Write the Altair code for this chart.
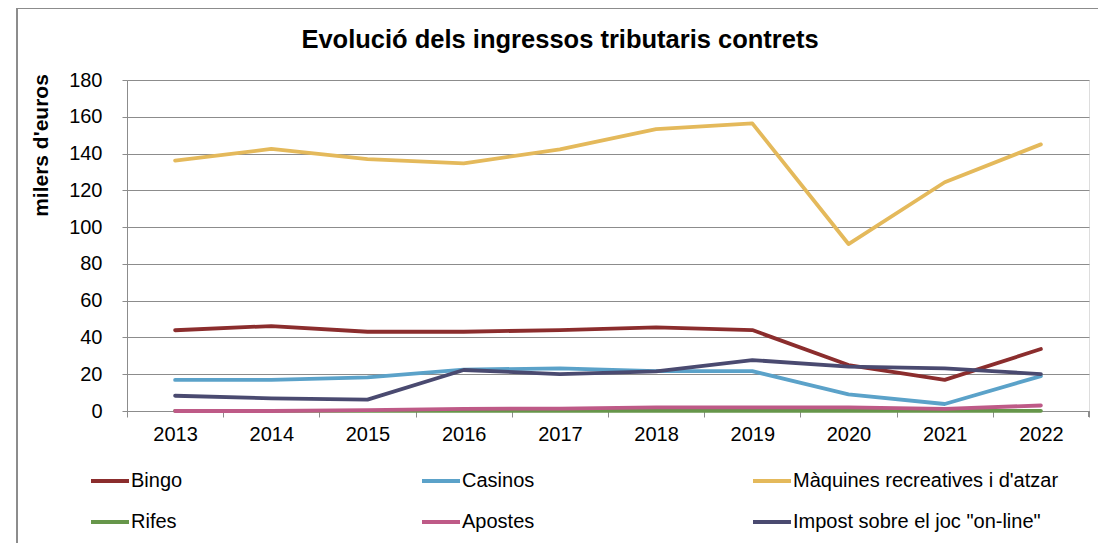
import altair as alt
import pandas as pd

years = ["2013", "2014", "2015", "2016", "2017", "2018", "2019", "2020", "2021", "2022"]
series = ["Bingo", "Casinos", "Màquines recreatives i d'atzar", "Rifes", "Apostes",
          "Impost sobre el joc \"on-line\""]
bingo = [43.9, 46.2, 43.1, 43.1, 44.0, 45.5, 44.0, 25.0, 16.9, 33.7]
casinos = [16.9, 16.9, 18.3, 22.5, 23.2, 21.7, 21.7, 9.0, 3.8, 19.0]
maquines = [136.2, 142.5, 137.0, 134.7, 142.3, 153.3, 156.4, 90.8, 124.4, 145.0]
rifes = [0.1, 0.1, 0.1, 0.1, 0.1, 0.1, 0.1, 0.1, 0.1, 0.1]
apostes = [0.0, 0.0, 0.5, 1.2, 1.3, 2.0, 2.0, 2.0, 1.2, 3.0]
impost = [8.3, 6.9, 6.2, 22.3, 20.1, 21.6, 27.7, 24.1, 23.2, 20.1]
colors = ["#8B2D2D", "#5BA2C9", "#E4B95B", "#66964A", "#BE5A87", "#4A4A70"]
title_text = "Evolució dels ingressos tributaris  contrets"

values = [bingo, casinos, maquines, rifes, apostes, impost]
rows = []
for si, (name, vals) in enumerate(zip(series, values)):
    for y, v in zip(years, vals):
        rows.append({"year": y, "series": name, "value": v, "order": si})
df = pd.DataFrame(rows)

W, H = 962, 331
FONT = "Liberation Sans"

lines = alt.Chart(df).mark_line(strokeWidth=3.8, strokeCap="round", strokeJoin="round").encode(
    x=alt.X("year:O", bandPosition=0.5,
            scale=alt.Scale(type="band", paddingInner=0, paddingOuter=0),
            axis=alt.Axis(title=None, tickBand="extent", labelAngle=0, labelFontSize=20,
                          labelFont=FONT, labelColor="#000", labelPadding=7, tickSize=6,
                          tickColor="#8c8c8c", domainColor="#8c8c8c", grid=False)),
    y=alt.Y("value:Q",
            scale=alt.Scale(domain=[0, 180], nice=False),
            axis=alt.Axis(values=list(range(0, 181, 20)), title="milers d'euros",
                          titleFont=FONT, titleFontSize=21, titleFontWeight="bold",
                          titleColor="#000", titleAngle=-90, titleX=-86, titleY=65,
                          titleAlign="center", titleBaseline="middle",
                          labelFontSize=20, labelFont=FONT, labelColor="#000",
                          labelPadding=20, tickSize=5, tickColor="#8c8c8c",
                          domainColor="#8c8c8c", gridColor="#8c8c8c", gridWidth=1.2)),
    color=alt.Color("series:N", sort=series,
                    scale=alt.Scale(domain=series, range=colors),
                    legend=alt.Legend(title=None, orient="none", legendX=-43, legendY=380,
                                      direction="horizontal", columns=3, gridAlign="all",
                                      columnPadding=17, rowPadding=10, symbolType="stroke",
                                      symbolSize=1444, symbolStrokeWidth=4, symbolOffset=5,
                                      labelFontSize=20, labelFont=FONT, labelColor="#000",
                                      labelOffset=0, labelLimit=400, padding=0)),
    order=alt.Order("order:Q"),
)

frame = alt.Chart(df).mark_rect(fill=None, stroke="#8c8c8c", strokeWidth=1, clip=False).encode(
    x=alt.value(-110), y=alt.value(-71.5), x2=alt.value(2000), y2=alt.value(2000)
)

last_tick = alt.Chart(df).mark_rule(color="#8c8c8c").encode(
    x=alt.value(W), y=alt.value(H), y2=alt.value(H + 6)
)

title = alt.Chart(pd.DataFrame({"t": [title_text]})).mark_text(
    font=FONT, fontSize=25.5, fontWeight="bold", color="#000", align="center",
    baseline="alphabetic"
).encode(x=alt.value(433), y=alt.value(-32), text="t:N")

chart = alt.layer(frame, lines, last_tick, title).properties(
    width=W, height=H,
    autosize=alt.AutoSizeParams(type="none"),
    padding={"left": 119, "top": 72, "right": 9, "bottom": 132},
).configure_view(stroke=None).configure(background="white")

chart.save("out.html", embed_options={"renderer": "svg", "actions": False})
